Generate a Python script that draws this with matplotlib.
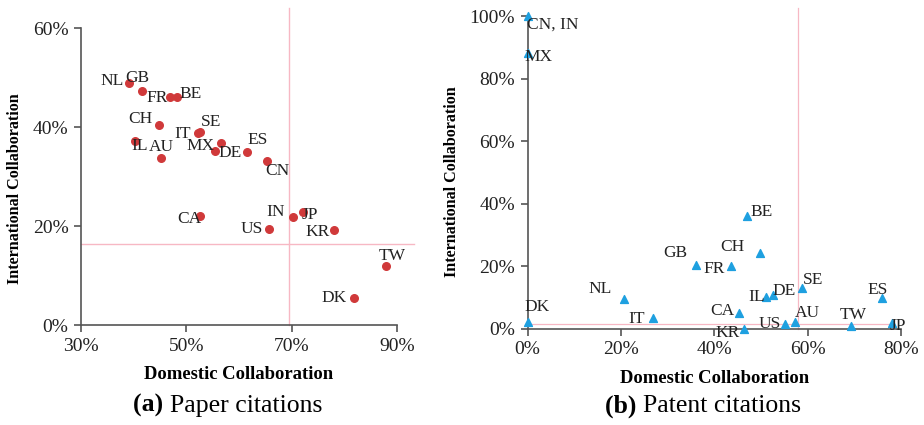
import matplotlib.pyplot as plt
from matplotlib.ticker import FuncFormatter

plt.rcParams['font.family'] = ['Liberation Serif', 'DejaVu Serif']

# (a) paper citations: domestic vs international collaboration (%)
paper_codes = ['NL', 'GB', 'FR', 'BE', 'CH', 'IL', 'AU', 'IT', 'SE', 'MX', 'DE',
               'ES', 'CN', 'CA', 'US', 'IN', 'JP', 'KR', 'TW', 'DK']
paper_dom = [39.1, 41.6, 46.9, 48.2, 44.8, 40.2, 45.2, 52.3, 52.6, 55.4, 56.6,
             61.5, 65.3, 52.6, 65.7, 70.2, 72.1, 78.0, 87.9, 81.8]
paper_int = [48.9, 47.3, 46.0, 46.0, 40.4, 37.2, 33.7, 38.8, 39.0, 35.2, 36.8,
             35.0, 33.2, 22.0, 19.4, 21.8, 22.8, 19.2, 11.9, 5.5]
paper_avg_dom = 69.4
paper_avg_int = 16.4

# (b) patent citations
patent_codes = ['CN, IN', 'MX', 'BE', 'CH', 'GB', 'FR', 'NL', 'DK', 'IT', 'CA',
                'KR', 'IL', 'DE', 'SE', 'US', 'AU', 'TW', 'ES', 'JP']
patent_dom = [0.0, 0.0, 47.1, 49.7, 36.0, 43.5, 20.6, 0.0, 26.8, 45.2,
              46.3, 51.0, 52.5, 58.9, 55.2, 57.2, 69.2, 76.0, 78.0]
patent_int = [100.0, 88.2, 36.0, 24.2, 20.4, 20.2, 9.6, 2.2, 3.5, 5.1,
              0.0, 10.2, 10.8, 13.1, 1.6, 2.2, 1.0, 9.9, 1.9]
patent_avg_dom = 58.0
patent_avg_int = 1.6

# label placement: (dx, dy) in pixels, horizontal alignment
paper_lbl = {
    'NL': (-5, 2, 'right'), 'GB': (-5, 13, 'center'), 'FR': (-2, -1, 'right'),
    'BE': (3, 3, 'left'), 'CH': (-6, 6, 'right'), 'IL': (-3, -5, 'left'),
    'AU': (0, 11, 'center'), 'IT': (-8, -1, 'right'), 'SE': (1, 10, 'left'),
    'MX': (0, 5, 'right'), 'DE': (-3, -10, 'left'), 'ES': (1, 12, 'left'),
    'CN': (-2, -10, 'left'), 'CA': (1, -3, 'right'), 'US': (-6, 0, 'right'),
    'IN': (-8, 5, 'right'), 'JP': (-1, -3, 'left'), 'KR': (-4, -2, 'right'),
    'TW': (6, 10, 'center'), 'DK': (-7, 0, 'right'),
}
patent_lbl = {
    'CN, IN': (-1, -8, 'left'), 'MX': (-3, -4, 'left'), 'BE': (3, 4, 'left'),
    'CH': (-15, 6, 'right'), 'GB': (-8, 12, 'right'), 'FR': (-6, -3, 'right'),
    'NL': (-12, 10, 'right'), 'DK': (-3, 15, 'left'), 'IT': (-8, -1, 'right'),
    'CA': (-4, 2, 'right'), 'KR': (-4, -4, 'right'), 'IL': (-1, 0, 'right'),
    'DE': (0, 4, 'left'), 'SE': (0, 8, 'left'), 'US': (-4, 0, 'right'),
    'AU': (0, 9, 'left'), 'TW': (3, 11, 'center'), 'ES': (-5, 8, 'center'),
    'JP': (-2, -3, 'left'),
}

pct = FuncFormatter(lambda v, _: f'{v:.0f}%')
pink = '#f7b8c4'
spine_col = '#555555'


def style_axes(ax, ylab_x, ylab_y):
    for s in ['top', 'right']:
        ax.spines[s].set_visible(False)
    for s in ['left', 'bottom']:
        ax.spines[s].set_color(spine_col)
        ax.spines[s].set_linewidth(1.2)
    ax.tick_params(direction='out', length=5, width=1.2, color=spine_col,
                   labelsize=14, labelcolor='#222222', pad=4)
    ax.xaxis.set_major_formatter(pct)
    ax.yaxis.set_major_formatter(pct)
    ax.set_xlabel('Domestic Collaboration', fontsize=13.4, fontweight='bold', labelpad=8)
    ax.set_ylabel('International Collaboration', fontsize=11.6, fontweight='bold')
    ax.yaxis.set_label_coords(ylab_x, ylab_y)


def label_points(ax, codes, xs, ys, placement):
    for c, x, y in zip(codes, xs, ys):
        dx, dy, ha = placement[c]
        ax.annotate(c, (x, y), xytext=(dx, dy), textcoords='offset pixels',
                    ha=ha, va='center', fontsize=12.5, color='#222222',
                    annotation_clip=False)


fig = plt.figure(figsize=(9.24, 4.25), dpi=100)

ax1 = fig.add_axes([0.0877, 0.235, 0.342, 0.699])
ax1.plot([paper_avg_dom, paper_avg_dom], [0, 64], color=pink, lw=1, clip_on=False, zorder=1)
ax1.plot([30, 93.2], [paper_avg_int, paper_avg_int], color=pink, lw=1, clip_on=False, zorder=1)
ax1.scatter(paper_dom, paper_int, s=30, color='#d0393a', zorder=3, clip_on=False)
ax1.set_xlim(30, 90)
ax1.set_ylim(0, 60)
ax1.set_xticks([30, 50, 70, 90])
ax1.set_yticks([0, 20, 40, 60])
style_axes(ax1, -0.184, 0.458)
label_points(ax1, paper_codes, paper_dom, paper_int, paper_lbl)

ax2 = fig.add_axes([0.571, 0.226, 0.404, 0.736])
ax2.plot([patent_avg_dom, patent_avg_dom], [0, 102.5], color=pink, lw=0.9, clip_on=False, zorder=1)
ax2.plot([0, 78.5], [patent_avg_int, patent_avg_int], color=pink, lw=0.9, clip_on=False, zorder=1)
ax2.scatter(patent_dom, patent_int, s=32, marker='^', color='#1ea0e0', zorder=3, clip_on=False)
ax2.set_xlim(0, 80)
ax2.set_ylim(0, 100)
ax2.set_xticks([0, 20, 40, 60, 80])
ax2.set_yticks([0, 20, 40, 60, 80, 100])
style_axes(ax2, -0.18, 0.47)
label_points(ax2, patent_codes, patent_dom, patent_int, patent_lbl)

# captions below each panel
for xc, tag, txt in [(0.184, '(a)', 'Paper citations'), (0.696, '(b)', 'Patent citations')]:
    fig.text(xc, 0.045, tag + ' ', fontsize=18.5, fontweight='bold', ha='right', va='center')
    fig.text(xc, 0.045, txt, fontsize=18.5, ha='left', va='center')

fig.savefig('out.png', dpi=100)
